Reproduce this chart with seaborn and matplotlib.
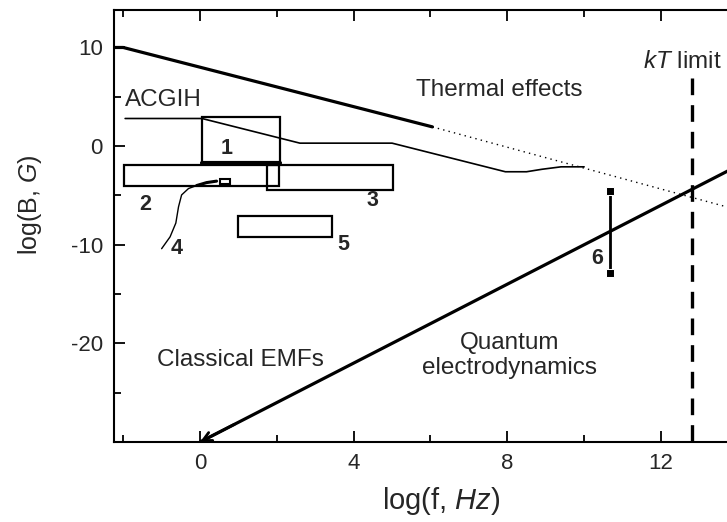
import matplotlib
matplotlib.use("Agg")
import matplotlib.pyplot as plt
import seaborn as sns
from matplotlib.patches import Rectangle
from matplotlib.ticker import MultipleLocator, FixedLocator

# ===============================
# DATA
# ===============================
thermal_x = [-2.25, -2.0, 6.05]
thermal_y = [10.0, 10.0, 1.95]
thermal_ext_x = [6.05, 13.75]
thermal_ext_y = [1.95, -6.2]

quantum_x = [0.0, 13.75]
quantum_y = [-30.0, -2.5]

acgih_x = [-1.95, 0.05, 2.6, 5.0, 7.95, 8.5, 8.9, 9.4, 10.0]
acgih_y = [2.8, 2.8, 0.3, 0.3, -2.6, -2.6, -2.35, -2.1, -2.1]

curve4_x = [-1.0, -0.78, -0.63, -0.56, -0.48, -0.30, -0.09, 0.17, 0.43]
curve4_y = [-10.4, -9.2, -7.8, -6.15, -4.95, -4.3, -4.0, -3.7, -3.55]

box_names = ["1", "2", "3", "5"]
box_x0 = [0.05, -1.98, 1.74, 0.99]
box_x1 = [2.08, 2.06, 5.03, 3.44]
box_y0 = [-1.7, -4.05, -4.4, -9.2]
box_y1 = [2.95, -1.9, -1.9, -7.1]

num_labels = ["1", "2", "3", "4", "5", "6"]
num_x = [0.7, -1.43, 4.5, -0.6, 3.72, 10.33]
num_y = [-0.2, -5.9, -5.5, -10.4, -10.0, -11.4]

bar6_x = [10.68, 10.68]
bar6_y = [-12.9, -4.56]

kt_x = [12.8, 12.8]
kt_y = [6.9, -30.0]

# ===============================
# STYLE
# ===============================
sns.set_style("ticks")
plt.rcParams["font.family"] = ["Liberation Sans", "DejaVu Sans"]
plt.rcParams["mathtext.fontset"] = "custom"
plt.rcParams["mathtext.rm"] = "Liberation Sans"
plt.rcParams["mathtext.it"] = "Liberation Sans:italic"
plt.rcParams["axes.unicode_minus"] = False

fig = plt.figure(figsize=(7.27, 5.22), dpi=100)
ax = fig.add_axes([114 / 727, 80 / 522, 1 - 114 / 727, 432 / 522])


def line(x, y, **kw):
    sns.lineplot(x=x, y=y, sort=False, estimator=None, color="black",
                 ax=ax, **kw)


# ===============================
# LINES
# ===============================
line(thermal_x, thermal_y, lw=2.3)
line(thermal_ext_x, thermal_ext_y, lw=1.0, linestyle=(0, (1, 3)))
line(quantum_x, quantum_y, lw=2.3)
ax.annotate("", xy=(quantum_x[0], quantum_y[0]), xytext=(0.9, -28.2),
            arrowprops=dict(arrowstyle="->", color="black", lw=2.0,
                            mutation_scale=16, shrinkA=0, shrinkB=0))
line(acgih_x, acgih_y, lw=1.2)
line(curve4_x, curve4_y, lw=1.0)
line(curve4_x[-3:], curve4_y[-3:], lw=2.2)
ax.add_patch(Rectangle((0.52, -3.8), 0.26, 0.5, fill=False,
                       edgecolor="black", lw=1.5))

# boxes
for name, x0, x1, y0, y1 in zip(box_names, box_x0, box_x1, box_y0, box_y1):
    ax.add_patch(Rectangle((x0, y0), x1 - x0, y1 - y0, fill=False,
                           edgecolor="black", lw=1.6))
# thick bottom edge of box 1
line([box_x0[0], box_x1[0]], [box_y0[0], box_y0[0]], lw=3.0)

# error bar 6
line(bar6_x, bar6_y, lw=2.0, marker="s", markersize=5.5)

# kT limit
line(kt_x, kt_y, lw=2.4, linestyle=(0, (5, 3)))

# ===============================
# TEXT
# ===============================
for lab, tx, ty in zip(num_labels, num_x, num_y):
    ax.text(tx, ty, lab, fontsize=15.5, fontweight="bold",
            ha="center", va="center")
ax.text(-1.95, 4.7, "ACGIH", fontsize=17.5, ha="left", va="center")
ax.text(7.8, 5.7, "Thermal effects", fontsize=17.5, ha="center", va="center")
ax.text(1.04, -21.7, "Classical EMFs", fontsize=17.5, ha="center", va="center")
ax.text(8.05, -21.2, "Quantum\nelectrodynamics", fontsize=17.5,
        ha="center", va="center", linespacing=1.2)
ax.text(12.55, 8.5, r"$kT$ limit", fontsize=17.5, ha="center", va="center")

# ===============================
# AXES
# ===============================
ax.set_xlim(-2.24, 13.72)
ax.set_ylim(-30.0, 13.8)
ax.xaxis.set_major_locator(MultipleLocator(4))
ax.xaxis.set_minor_locator(MultipleLocator(2))
ax.yaxis.set_major_locator(FixedLocator([-20, -10, 0, 10]))
ax.yaxis.set_minor_locator(FixedLocator([-25, -15, -5, 5]))
ax.tick_params(which="both", direction="in", top=True, right=False,
               labelsize=16, width=1.3, color="black")
ax.tick_params(which="major", length=8, pad=8)
ax.tick_params(which="minor", length=5)
for side in ["left", "bottom", "top"]:
    ax.spines[side].set_linewidth(1.5)
    ax.spines[side].set_color("black")
ax.spines["right"].set_visible(False)

ax.set_xlabel(r"log(f, $\it{Hz}$)", fontsize=21)
ax.set_ylabel(r"log(B, $\it{G}$)", fontsize=18)
ax.xaxis.set_label_coords(0.533, -0.1)
ax.yaxis.set_label_coords(-0.115, 0.55)

fig.savefig("out.png", dpi=100)
